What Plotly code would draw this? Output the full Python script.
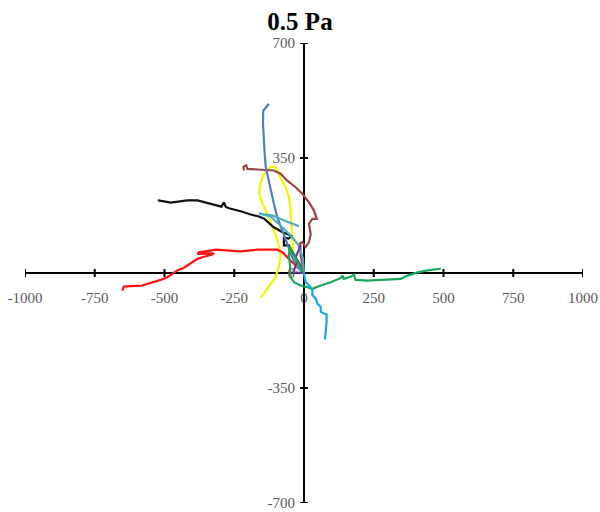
import plotly.graph_objects as go

# ---- data (µm) ----
blue_x = [0, -24, -42, -60, -78, -96, -108, -119, -131, -137, -141, -144, -147, -146, -126]
blue_y = [0, 18, 48, 89, 129, 170, 211, 251, 291, 322, 363, 403, 454, 494, 515]

brown_x = [0, -5, -12, -14, -6, 6, 18, 24, 18, 30, 46, 36, 18, -6, -30, -60, -84, -108, -131, -167, -203, -207, -217, -215]
brown_y = [0, 23, 53, 91, 94, 79, 94, 119, 150, 165, 165, 190, 215, 241, 261, 281, 302, 312, 314, 315, 317, 328, 324, 312]

yellow_x = [0, -26, -40, -42, -45, -48, -54, -66, -84, -95, -105, -119, -134, -146, -157, -161, -149, -131, -113, -95, -84, -90, -102, -119, -137, -155]
yellow_y = [0, 32, 68, 109, 150, 190, 231, 261, 288, 312, 324, 323, 312, 297, 269, 241, 211, 180, 139, 99, 58, 18, -13, -33, -53, -75]

black_x = [0, -19, -41, -54, -72, -72, -55, -45, -60, -77, -108, -131, -143, -161, -191, -227, -269, -281, -287, -296, -311, -335, -359, -382, -418, -454, -478, -502, -524]
black_y = [0, 32, 62, 84, 84, 108, 105, 112, 119, 124, 139, 155, 165, 172, 178, 188, 197, 202, 215, 202, 205, 211, 215, 221, 221, 218, 214, 218, 221]

red_x = [0, -24, -42, -60, -77, -95, -131, -167, -227, -275, -317, -335, -377, -382, -323, -329, -346, -364, -382, -400, -418, -430, -454, -472, -490, -514, -538, -562, -580, -598, -622, -646, -651]
red_y = [0, 18, 33, 48, 63, 71, 72, 71, 66, 68, 71, 68, 63, 58, 60, 56, 53, 48, 43, 33, 23, 16, 8, -2, -13, -21, -28, -33, -38, -39, -41, -41, -54]

green_x = [0, -23, -42, -51, -54, -50, -48, -36, -12, 12, 30, 60, 96, 132, 138, 143, 168, 179, 185, 227, 287, 347, 371, 407, 443, 490]
green_y = [0, 32, 62, 81, 53, 23, -13, -28, -38, -43, -48, -38, -28, -15, -8, -18, -11, -5, -21, -23, -21, -18, -8, 2, 8, 13]

sky_x = [0, 0, 6, 18, 30, 30, 42, 48, 60, 60, 72, 81, 81, 75]
sky_y = [0, -3, -27, -37, -52, -67, -78, -93, -103, -118, -123, -126, -149, -203]

cyan_x = [0, -4, -19, -48, -84, -120, -162, -112, -62, -18]
cyan_y = [0, 44, 84, 114, 144, 172, 181, 175, 157, 142]

purple_x = [0, -38, -32, -24, -30, -19, -12]
purple_y = [0, 2, 18, 33, 48, 68, 84]

tracks = [
    (yellow_x, yellow_y, "#F4F400"),
    (brown_x, brown_y, "#9A4744"),
    (black_x, black_y, "#111111"),
    (red_x, red_y, "#FF1010"),
    (blue_x, blue_y, "#4F7FC0"),
    (cyan_x, cyan_y, "#4BACC6"),
    (purple_x, purple_y, "#7030A0"),
    (green_x, green_y, "#1BA85A"),
    (sky_x, sky_y, "#1AA7E8"),
]

x_ticks = [-1000, -750, -500, -250, 0, 250, 500, 750, 1000]
y_ticks = [-700, -350, 0, 350, 700]

fig = go.Figure()
for xs, ys, col in tracks:
    fig.add_trace(go.Scatter(x=xs, y=ys, mode="lines",
                             line=dict(color=col, width=2.2), showlegend=False,
                             hoverinfo="skip"))

# axes through the origin
fig.add_shape(type="line", x0=x_ticks[0], x1=x_ticks[-1], y0=0, y1=0,
              line=dict(color="black", width=2), layer="below")
fig.add_shape(type="line", x0=0, x1=0, y0=y_ticks[0], y1=y_ticks[-1],
              line=dict(color="black", width=2), layer="below")
TX = 14   # half tick length in x units (~4px)
TY = 12   # half tick length in y units (~4px)
for t in x_ticks:
    fig.add_shape(type="line", x0=t, x1=t, y0=-TY, y1=TY,
                  line=dict(color="black", width=2), layer="below")
for t in y_ticks:
    fig.add_shape(type="line", x0=-TX, x1=TX, y0=t, y1=t,
                  line=dict(color="black", width=2), layer="below")

tickfont = dict(family="Liberation Serif", size=15, color="#595959")
fig.update_layout(
    width=600, height=512,
    margin=dict(l=25, r=17, t=43, b=9),
    paper_bgcolor="white", plot_bgcolor="white",
    title=dict(text="<b>0.5 Pa</b>", x=0.5, xanchor="center",
               y=1 - 21 / 512, yanchor="middle", yref="container",
               font=dict(family="Liberation Serif", size=25, color="black")),
    xaxis=dict(range=[-1000, 1000], anchor="free", position=0.5,
               automargin=False,
               showgrid=False, zeroline=False, showline=False,
               tickmode="array", tickvals=x_ticks,
               ticktext=[str(v) for v in x_ticks],
               ticks="", ticklabelstandoff=14, tickfont=tickfont),
    yaxis=dict(range=[-700, 700], anchor="free", position=0.5,
               automargin=False,
               showgrid=False, zeroline=False, showline=False,
               tickmode="array", tickvals=y_ticks,
               ticktext=[str(v) for v in y_ticks],
               ticks="", ticklabelstandoff=9, tickfont=tickfont),
)
fig.write_html("out.html")
